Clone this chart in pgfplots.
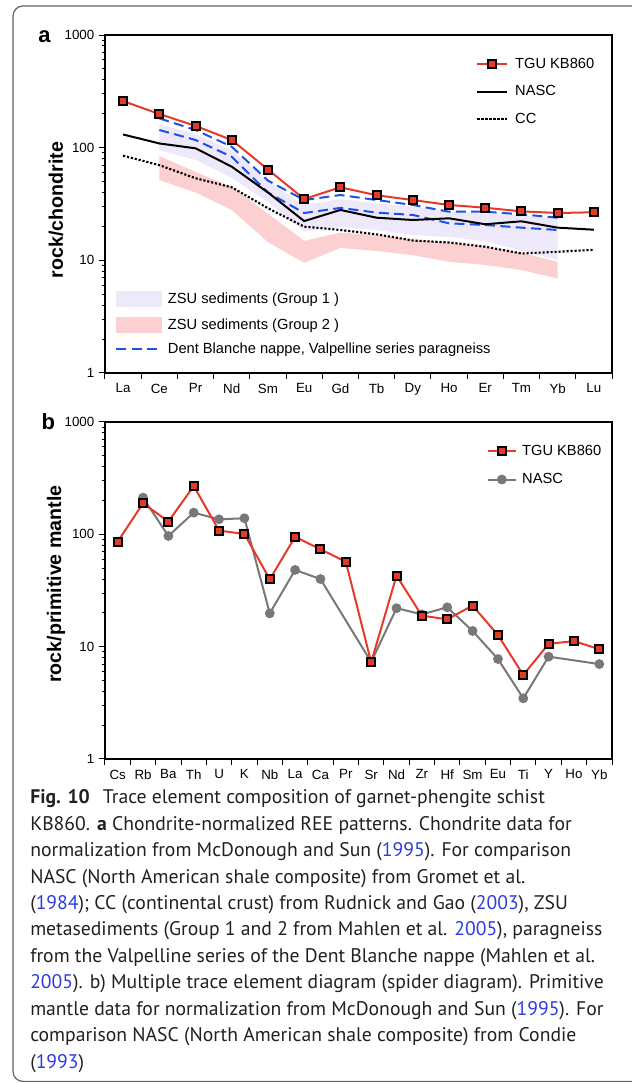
\documentclass[border=0pt]{standalone}
\usepackage{pgfplots}
\pgfplotsset{compat=1.18}
\usepackage{fontspec}
\setmainfont{Liberation Sans}
\newfontfamily\capfont{PT Sans}
\definecolor{tgured}{RGB}{230,57,41}
\definecolor{nascgray}{RGB}{120,120,120}
\definecolor{dbblue}{RGB}{30,80,230}
\definecolor{lav}{RGB}{238,232,251}
\definecolor{pinkf}{RGB}{252,208,208}
\definecolor{capblue}{RGB}{45,60,225}
\definecolor{captext}{RGB}{35,31,32}
\definecolor{framegray}{RGB}{100,100,100}

\begin{document}
\begin{tikzpicture}
\useasboundingbox (0,0) rectangle (474pt,812.25pt);
\begin{scope}
\clip (0,0) rectangle (474pt,812.25pt);
\draw[framegray, line width=0.9pt, rounded corners=7.5pt] (9.75pt,1.2pt) rectangle (490pt,807.75pt);
\end{scope}

% ---------------- panel a ----------------
\begin{axis}[scale only axis, width=380.25pt, height=253.5pt,
    at={(78.75pt,532.5pt)}, anchor=south west,
    ymode=log, ymin=1, ymax=1000,
    ytick={1,10,100,1000}, yticklabels={1,10,100,1000},
    minor ytick={2,3,4,5,6,7,8,9,20,30,40,50,60,70,80,90,200,300,400,500,600,700,800,900},
    axis line style={line width=1.6pt},
    tick style={black, line width=0.75pt},
    major tick length=4.5pt, minor tick length=2.5pt,
    tick align=outside, tick pos=left,
    tick label style={font=\fontsize{10}{12}\selectfont},
    x tick label as interval,
    xmin=-0.5, xmax=13.5, xtick={-0.5,0.5,...,13.5},
    xticklabels={La,Ce,Pr,Nd,Sm,Eu,Gd,Tb,Dy,Ho,Er,Tm,Yb,Lu},
    ylabel={rock/chondrite},
    ylabel style={font=\fontsize{14.7}{16}\selectfont\bfseries, at={(axis description cs:-0.0966,0.482)}, anchor=center},
    legend style={draw=none, fill=none, font=\fontsize{11}{13}\selectfont, inner sep=0pt,
      at={(axis description cs:0.732,0.941)}, anchor=north west, row sep=7.5pt,
      /tikz/every odd column/.append style={column sep=3pt}},
    legend cell align=left,
    legend image code/.code={\draw[mark repeat=2,mark phase=2,#1] plot coordinates {(0pt,0pt) (11.25pt,0pt) (22.5pt,0pt)};},
    reverse legend]
% ZSU Group 2 (pink)
\addplot[fill=pinkf, draw=none, forget plot] coordinates {
 (1,84.3) (2,61) (3,45) (4,26) (5,14.9) (6,17.6) (7,16.8) (8,15.3) (9,14.4) (10,13.2) (11,11.7) (12,9.7)
 (12,6.9) (11,8.2) (10,9.1) (9,9.7) (8,11.1) (7,12.1) (6,12.9) (5,9.5) (4,14.5) (3,28) (2,40) (1,51.6)};
% ZSU Group 1 (lavender)
\addplot[fill=lav, draw=none, forget plot] coordinates {
 (1,162) (2,132) (3,95) (4,50) (5,31) (6,35) (7,32) (8,30) (9,27) (10,26) (11,25) (12,23.5)
 (12,10) (11,12.2) (10,14.8) (9,16.1) (8,16.8) (7,18.6) (6,19.8) (5,18) (4,33) (3,54) (2,78) (1,95)};
% Dent Blanche paragneiss (two dashed)
\addplot[dbblue, line width=1.5pt, dash pattern=on 7.5pt off 4pt, forget plot] coordinates {
 (1,182) (2,143.5) (3,102) (4,51) (5,34.3) (6,38) (7,34.3) (8,31) (9,27) (10,27) (11,25.6) (12,23.9)};
\addplot[dbblue, line width=1.5pt, dash pattern=on 7.5pt off 4pt, forget plot] coordinates {
 (1,143.5) (2,117) (3,83) (4,40) (5,26.3) (6,29.2) (7,26.5) (8,25.3) (9,21.3) (10,20.6) (11,19.5) (12,18.6)};
% CC
\addplot[black, line width=1.6pt, dash pattern=on 1.6pt off 1.4pt] coordinates {
 (0,84.9) (1,70) (2,53.5) (3,44.5) (4,29) (5,19.9) (6,18.6) (7,17.0) (8,15.0) (9,14.4) (10,13.2) (11,11.5) (12,11.9) (13,12.4)};
\addlegendentry{CC}
% NASC
\addplot[black, line width=1.5pt] coordinates {
 (0,131) (1,109) (2,98.7) (3,67.8) (4,40) (5,22.3) (6,28) (7,23.9) (8,22.8) (9,23.6) (10,20.9) (11,22.2) (12,19.5) (13,18.7)};
\addlegendentry{NASC}
% TGU KB860
\addplot[tgured, line width=1.5pt, mark=square*, mark size=3pt, mark options={fill=tgured, draw=black, line width=1.5pt, solid}] coordinates {
 (0,259) (1,199) (2,156) (3,117) (4,64) (5,35) (6,44.5) (7,37.8) (8,34.3) (9,31) (10,29.3) (11,27.2) (12,26.3) (13,26.7)};
\addlegendentry{TGU KB860}
\end{axis}

% second legend of panel a
\begin{axis}[scale only axis, width=380.25pt, height=253.5pt, at={(78.75pt,532.5pt)}, anchor=south west,
  hide axis, xmin=0, xmax=1, ymin=0, ymax=1,
  legend style={at={(axis description cs:0.0197,0.252)}, anchor=north west, draw=none, fill=none,
    font=\fontsize{11}{13}\selectfont, inner sep=0pt, row sep=3.6pt,
    /tikz/every odd column/.append style={column sep=2.25pt}},
  legend cell align=left]
\addlegendimage{legend image code/.code={\path[draw=none,fill=none] (0pt,-8pt) rectangle (34.5pt,8pt); \fill[lav, draw=none] (0pt,-6pt) rectangle (34.5pt,6pt);}}
\addlegendentry{ZSU sediments (Group 1 )}
\addlegendimage{legend image code/.code={\path[draw=none,fill=none] (0pt,-8pt) rectangle (34.5pt,8pt); \fill[pinkf, draw=none] (0pt,-6pt) rectangle (34.5pt,6pt);}}
\addlegendentry{ZSU sediments (Group 2 )}
\addlegendimage{legend image code/.code={\draw[dbblue, line width=1.5pt, dash pattern=on 7.5pt off 4pt] (0pt,0pt) -- (33pt,0pt);}}
\addlegendentry{Dent Blanche nappe, Valpelline series paragneiss}
\end{axis}

% ---------------- panel b ----------------
\begin{axis}[scale only axis, width=380.25pt, height=252.75pt,
    at={(78.75pt,243pt)}, anchor=south west,
    ymode=log, ymin=1, ymax=1000,
    ytick={1,10,100,1000}, yticklabels={1,10,100,1000},
    minor ytick={2,3,4,5,6,7,8,9,20,30,40,50,60,70,80,90,200,300,400,500,600,700,800,900},
    axis line style={line width=1.6pt},
    tick style={black, line width=0.75pt},
    major tick length=4.5pt, minor tick length=2.5pt,
    tick align=outside, tick pos=left,
    tick label style={font=\fontsize{10}{12}\selectfont},
    x tick label as interval,
    xmin=-0.5, xmax=19.5, xtick={-0.5,0.5,...,19.5},
    xticklabels={Cs,Rb,Ba,Th,U,K,Nb,La,Ca,Pr,Sr,Nd,Zr,Hf,Sm,Eu,Ti,Y,Ho,Yb},
    ylabel={rock/primitive mantle},
    ylabel style={font=\fontsize{14.7}{16}\selectfont\bfseries, at={(axis description cs:-0.0966,0.519)}, anchor=center},
    legend style={draw=none, fill=none, font=\fontsize{11}{13}\selectfont, inner sep=0pt,
      at={(axis description cs:0.7526,0.940)}, anchor=north west, row sep=8pt,
      /tikz/every odd column/.append style={column sep=2pt}},
    legend cell align=left,
    legend image code/.code={\draw[mark repeat=2,mark phase=2,#1] plot coordinates {(0pt,0pt) (10.5pt,0pt) (21pt,0pt)};},
    reverse legend]
\addplot[nascgray, line width=1.5pt, mark=*, mark size=2.9pt, mark options={fill=nascgray, draw=nascgray}] coordinates {
 (1,212) (2,96.7) (3,156) (4,136) (5,139) (6,19.8) (7,48.2) (8,40) (10,7.3) (11,22) (12,19.4) (13,22.4) (14,13.8) (15,7.77) (16,3.47) (17,8.15) (19,7.0)};
\addlegendentry{NASC}
\addplot[tgured, line width=1.5pt, mark=square*, mark size=3pt, mark options={fill=tgured, draw=black, line width=1.5pt, solid}] coordinates {
 (0,86) (1,189) (2,130) (3,269) (4,108) (5,100.7) (6,39.8) (7,95) (8,73.6) (9,57) (10,7.26) (11,42.8) (12,18.9) (13,17.5) (14,23.2) (15,12.7) (16,5.6) (17,10.6) (18,11.2) (19,9.5)};
\addlegendentry{TGU KB860}
\end{axis}

% panel letters
\node[font=\fontsize{16.5}{18}\selectfont\bfseries, anchor=base] at (33.4pt,780.5pt) {a};
\node[font=\fontsize{16.5}{18}\selectfont\bfseries, anchor=base] at (36.2pt,489.75pt) {b};

% caption
\begin{scope}[every node/.style={anchor=base west, inner sep=0pt, font=\capfont\fontsize{14.75}{16}\selectfont, text=captext}]
\node at (22.5pt,209.25pt) {\textbf{Fig. 10}\hspace{0.4em} Trace element composition of garnet-phengite schist};
\node at (22.5pt,189.45pt) {KB860. \textbf{a} Chondrite-normalized REE patterns. Chondrite data for};
\node at (22.5pt,169.65pt) {normalization from McDonough and Sun (\textcolor{capblue}{1995}). For comparison};
\node at (22.5pt,149.85pt) {NASC (North American shale composite) from Gromet et al.};
\node at (22.5pt,130.05pt) {(\textcolor{capblue}{1984}); CC (continental crust) from Rudnick and Gao (\textcolor{capblue}{2003}), ZSU};
\node at (22.5pt,110.25pt) {metasediments (Group 1 and 2 from Mahlen et al. \textcolor{capblue}{2005}), paragneiss};
\node at (22.5pt,90.45pt) {from the Valpelline series of the Dent Blanche nappe (Mahlen et al.};
\node at (22.5pt,70.65pt) {\textcolor{capblue}{2005}). b) Multiple trace element diagram (spider diagram). Primitive};
\node at (22.5pt,50.85pt) {mantle data for normalization from McDonough and Sun (\textcolor{capblue}{1995}). For};
\node at (22.5pt,31.05pt) {comparison NASC (North American shale composite) from Condie};
\node at (22.5pt,11.25pt) {(\textcolor{capblue}{1993})};
\end{scope}
\end{tikzpicture}
\end{document}
